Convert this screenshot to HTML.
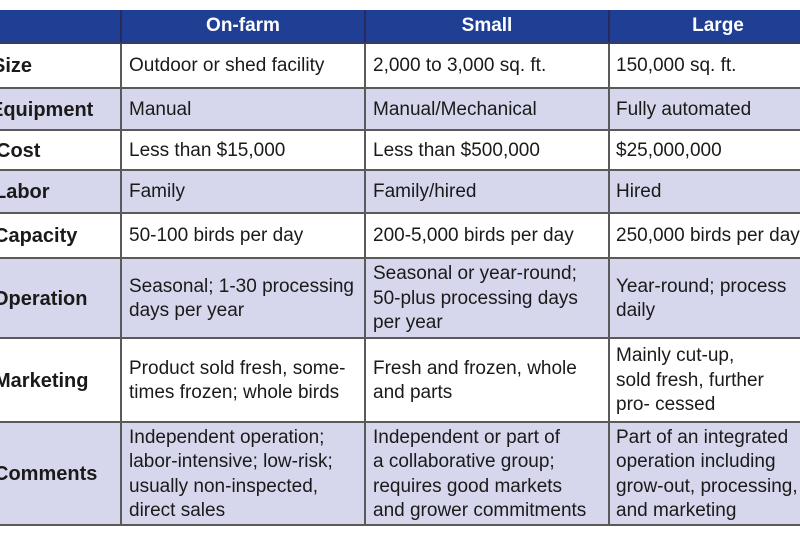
<!DOCTYPE html>
<html><head><style>
body{margin:0;width:800px;height:545px;background:#fff;overflow:hidden;position:relative;font-family:"Liberation Sans",sans-serif;}
.r{position:absolute;left:0;width:800px;border-bottom:2px solid #5a5a5a;box-sizing:border-box;}
.l{background:#d6d6ec;}
.h{background:#1f3f95;border-bottom:2px solid #3a3a6a;}
.c{position:absolute;top:2px;bottom:0;display:flex;align-items:center;font-size:19px;line-height:24.5px;color:#1a1a1a;white-space:nowrap;}
.v{position:absolute;top:0;bottom:0;width:2px;background:#5a5a5a;}
.b{font-weight:bold;font-size:20px;}
.hd{color:#fff;font-weight:bold;justify-content:center;top:0;}
</style></head><body>
<div class="r h" style="top:10px;height:34px">
<div class="c hd" style="left:122px;width:242px">On-farm</div>
<div class="c hd" style="left:366px;width:242px">Small</div>
<div class="c hd" style="left:610px;width:216px">Large</div>
<div class="v" style="left:120px;background:#2a2a5a"></div><div class="v" style="left:364px;background:#2a2a5a"></div><div class="v" style="left:608px;background:#2a2a5a"></div>
</div>
<div class="r" style="top:44px;height:45px">
<div class="c b" style="left:-8px">Size</div>
<div class="c" style="left:129px">Outdoor or shed facility</div>
<div class="c" style="left:373px">2,000 to 3,000 sq. ft.</div>
<div class="c" style="left:616px">150,000 sq. ft.</div>
<div class="v" style="left:120px"></div><div class="v" style="left:364px"></div><div class="v" style="left:608px"></div></div>
<div class="r l" style="top:89px;height:42px">
<div class="c b" style="left:-10px">Equipment</div>
<div class="c" style="left:129px">Manual</div>
<div class="c" style="left:373px">Manual/Mechanical</div>
<div class="c" style="left:616px">Fully automated</div>
<div class="v" style="left:120px"></div><div class="v" style="left:364px"></div><div class="v" style="left:608px"></div></div>
<div class="r" style="top:131px;height:40px">
<div class="c b" style="left:-4px">Cost</div>
<div class="c" style="left:129px">Less than $15,000</div>
<div class="c" style="left:373px">Less than $500,000</div>
<div class="c" style="left:616px">$25,000,000</div>
<div class="v" style="left:120px"></div><div class="v" style="left:364px"></div><div class="v" style="left:608px"></div></div>
<div class="r l" style="top:171px;height:43px">
<div class="c b" style="left:-6px">Labor</div>
<div class="c" style="left:129px">Family</div>
<div class="c" style="left:373px">Family/hired</div>
<div class="c" style="left:616px">Hired</div>
<div class="v" style="left:120px"></div><div class="v" style="left:364px"></div><div class="v" style="left:608px"></div></div>
<div class="r" style="top:214px;height:45px">
<div class="c b" style="left:-6px">Capacity</div>
<div class="c" style="left:129px">50-100 birds per day</div>
<div class="c" style="left:373px">200-5,000 birds per day</div>
<div class="c" style="left:616px">250,000 birds per day</div>
<div class="v" style="left:120px"></div><div class="v" style="left:364px"></div><div class="v" style="left:608px"></div></div>
<div class="r l" style="top:259px;height:80px">
<div class="c b" style="left:-7px">Operation</div>
<div class="c" style="left:129px">Seasonal; 1-30 processing<br>days per year</div>
<div class="c" style="left:373px">Seasonal or year-round;<br>50-plus processing days<br>per year</div>
<div class="c" style="left:616px">Year-round; process<br>daily</div>
<div class="v" style="left:120px"></div><div class="v" style="left:364px"></div><div class="v" style="left:608px"></div></div>
<div class="r" style="top:339px;height:84px">
<div class="c b" style="left:-6px">Marketing</div>
<div class="c" style="left:129px">Product sold fresh, some-<br>times frozen; whole birds</div>
<div class="c" style="left:373px">Fresh and frozen, whole<br>and parts</div>
<div class="c" style="left:616px">Mainly cut-up,<br>sold fresh, further<br>pro- cessed</div>
<div class="v" style="left:120px"></div><div class="v" style="left:364px"></div><div class="v" style="left:608px"></div></div>
<div class="r l" style="top:423px;height:103px">
<div class="c b" style="left:-6px">Comments</div>
<div class="c" style="left:129px">Independent operation;<br>labor-intensive; low-risk;<br>usually non-inspected,<br>direct sales</div>
<div class="c" style="left:373px">Independent or part of<br>a collaborative group;<br>requires good markets<br>and grower commitments</div>
<div class="c" style="left:616px">Part of an integrated<br>operation including<br>grow-out, processing,<br>and marketing</div>
<div class="v" style="left:120px"></div><div class="v" style="left:364px"></div><div class="v" style="left:608px"></div></div>
</body></html>
